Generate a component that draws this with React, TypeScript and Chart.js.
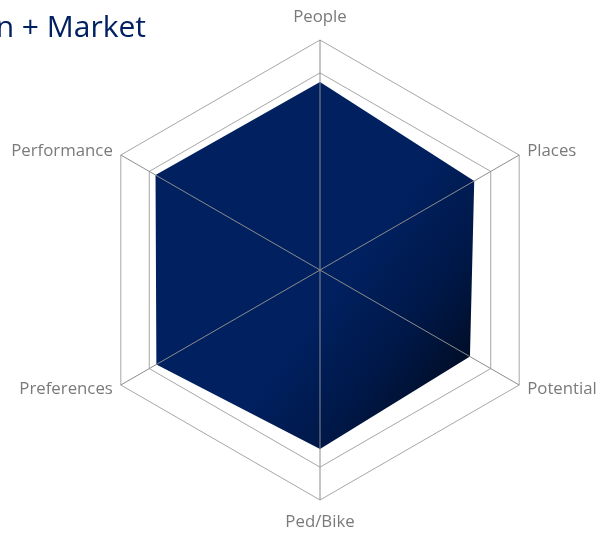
import React, { useEffect, useRef } from "react";
import { Chart, registerables } from "chart.js";

Chart.register(...registerables);

const categories = ["People", "Places", "Potential", "Ped/Bike", "Preferences", "Performance"];
const scores = [5.72, 5.42, 5.27, 5.45, 5.75, 5.78];
const scaleMax = 7;
const titleText = "Design + Market";

const NAVY = "#002060";

const overlayPlugin = {
  id: "overlay",
  afterDraw(chart: any) {
    const ctx = chart.ctx;
    const scale = chart.scales.r;
    ctx.save();
    ctx.fillStyle = NAVY;
    ctx.font = '30px "Open Sans"';
    ctx.textAlign = "right";
    ctx.textBaseline = "alphabetic";
    ctx.fillText(titleText, 146, 37);
    ctx.fillStyle = "#7a7a7a";
    ctx.font = '16.8px "Open Sans"';
    const outer = scale.getDistanceFromCenterForValue(scaleMax);
    categories.forEach((label, i) => {
      const p = scale.getPointPosition(i, outer);
      ctx.textBaseline = "middle";
      if (i === 0) {
        ctx.textAlign = "center";
        ctx.fillText(label, p.x, p.y - 23);
      } else if (i === 3) {
        ctx.textAlign = "center";
        ctx.fillText(label, p.x, p.y + 22);
      } else if (i === 1 || i === 2) {
        ctx.textAlign = "left";
        ctx.fillText(label, p.x + 8, p.y + (i === 1 ? -4 : 4));
      } else {
        ctx.textAlign = "right";
        ctx.fillText(label, p.x - 8, p.y + (i === 5 ? -4 : 4));
      }
    });
    ctx.restore();
  },
};

export default function App() {
  const ref = useRef<HTMLCanvasElement>(null);
  useEffect(() => {
    const canvas = ref.current!;
    const chart = new Chart(canvas, {
      type: "radar",
      data: {
        labels: categories,
        datasets: [
          {
            data: scores,
            backgroundColor: (c: any) => {
              const ctx = c.chart.ctx;
              const g = ctx.createLinearGradient(352, 264, 500, 375);
              g.addColorStop(0, NAVY);
              g.addColorStop(0.45, "#001848");
              g.addColorStop(1, "#000818");
              return g;
            },
            borderWidth: 0,
            borderColor: "rgba(0,0,0,0)",
            pointRadius: 0,
            fill: true,
          },
        ],
      },
      options: {
        responsive: false,
        animation: false,
        layout: { padding: { left: 90, right: 50, top: 40, bottom: 35 } },
        plugins: { legend: { display: false }, tooltip: { enabled: false }, title: { display: false } },
        scales: {
          r: {
            z: 1,
            min: 0,
            max: scaleMax,
            ticks: { display: false, stepSize: 1 },
            pointLabels: { display: false },
            grid: {
              z: 1,
              color: (c: any) => (c.tick && c.tick.value >= 6 ? "#a6a6a6" : "rgba(0,0,0,0)"),
              lineWidth: 1,
            },
            angleLines: { color: "#8c8c8c", lineWidth: 1 },
          },
        },
      },
      plugins: [overlayPlugin],
    } as any);
    return () => chart.destroy();
  }, []);
  return (
    <div style={{ position: "fixed", left: 0, top: 0, width: 600, height: 535, background: "#fff" }}>
      <canvas ref={ref} width={600} height={535} style={{ display: "block" }} />
    </div>
  );
}
